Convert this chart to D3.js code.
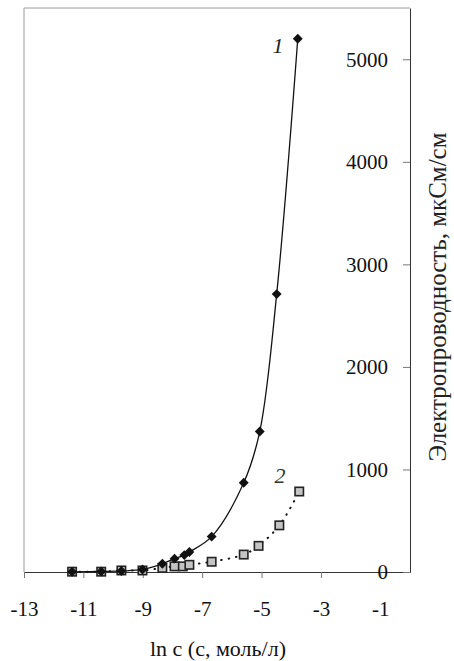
<!DOCTYPE html>
<html>
<head>
<meta charset="utf-8">
<script src="https://cdn.jsdelivr.net/npm/d3@7"></script>
<style>
  body { margin: 0; background: #fff; }
  svg { display: block; }
  svg text { font-family: "Liberation Serif", "Times New Roman", serif; }
</style>
</head>
<body>
<div id="chart"></div>
<script>
// Datos
const lnC1 = [-11.38, -10.4, -9.72, -9.01, -8.34, -7.93, -7.6, -7.43, -6.68, -5.6, -5.06, -4.49, -3.78];
const kappa1 = [2, 5, 10, 25, 80, 130, 165, 195, 345, 870, 1370, 2710, 5200];
const lnC2 = [-11.38, -10.4, -9.72, -9.01, -8.34, -7.93, -7.65, -7.43, -6.68, -5.6, -5.1, -4.4, -3.73];
const kappa2 = [3, 3, 15, 15, 40, 55, 55, 70, 100, 170, 255, 455, 785];
const xTicks = [-13, -11, -9, -7, -5, -3, -1];
const yTicks = [0, 1000, 2000, 3000, 4000, 5000];
const xTitle = "ln c (с, моль/л)";
const yTitle = "Электропроводность, мкСм/см";

const width = 454;
const height = 661;
const margin = { top: 8, right: 44, bottom: 89, left: 24 };

const svg = d3.select("#chart").append("svg")
    .attr("width", width)
    .attr("height", height);

const x = d3.scaleLinear().domain([-13, 0]).range([margin.left, width - margin.right]);
const y = d3.scaleLinear().domain([0, 5500]).range([height - margin.bottom, margin.top]);

// Marco superior e izquierdo
svg.append("path")
    .attr("d", `M${x(-13)},${y(0)}V${y(5500)}H${x(0)}`)
    .attr("fill", "none")
    .attr("stroke", "#9a9a9a")
    .attr("stroke-width", 1);

// Formato con guion simple, sin separador de miles
const fmt = d => String(d);

// Eje X
const xAxis = svg.append("g")
    .attr("transform", `translate(0,${y(0)})`)
    .call(d3.axisBottom(x).tickValues(xTicks).tickFormat(fmt).tickSize(6).tickPadding(23).tickSizeOuter(0));
xAxis.attr("font-family", null);
xAxis.select(".domain").attr("stroke", "#333");
xAxis.selectAll(".tick line").attr("stroke", "#777");
xAxis.selectAll("text").attr("font-size", 21).attr("fill", "#111");

// Eje Y (a la derecha, etiquetas hacia dentro)
const yAxis = svg.append("g")
    .attr("transform", `translate(${x(0)},0)`)
    .call(d3.axisLeft(y).tickValues(yTicks).tickFormat(fmt).tickSize(7).tickPadding(15).tickSizeOuter(0));
yAxis.attr("font-family", null);
yAxis.select(".domain").attr("stroke", "#333");
yAxis.selectAll(".tick line").attr("stroke", "#777");
yAxis.selectAll("text").attr("font-size", 21).attr("fill", "#111");

// Series
const s1 = lnC1.map((d, i) => [d, kappa1[i]]);
const s2 = lnC2.map((d, i) => [d, kappa2[i]]);

const line = d3.line()
    .x(d => x(d[0]))
    .y(d => y(d[1]))
    .curve(d3.curveCatmullRom.alpha(0.5));

svg.append("path")
    .datum(s1)
    .attr("d", line)
    .attr("fill", "none")
    .attr("stroke", "#111")
    .attr("stroke-width", 1.3);

svg.append("path")
    .datum(s2)
    .attr("d", line)
    .attr("fill", "none")
    .attr("stroke", "#111")
    .attr("stroke-width", 2)
    .attr("stroke-linecap", "round")
    .attr("stroke-dasharray", "0.5,7");

// Marcadores cuadrados (serie 2)
svg.selectAll(".sq")
    .data(s2)
    .enter().append("rect")
    .attr("class", "sq")
    .attr("x", d => x(d[0]) - 4.2)
    .attr("y", d => y(d[1]) - 4.2)
    .attr("width", 8.4)
    .attr("height", 8.4)
    .attr("fill", "#c4c4c4")
    .attr("stroke", "#222")
    .attr("stroke-width", 1.6);

// Marcadores rombo (serie 1)
svg.selectAll(".dm")
    .data(s1)
    .enter().append("path")
    .attr("class", "dm")
    .attr("transform", d => `translate(${x(d[0])},${y(d[1])}) rotate(45)`)
    .attr("d", "M-3.5,-3.5H3.5V3.5H-3.5Z")
    .attr("fill", "#111");

// Números de las curvas
svg.append("text")
    .attr("x", 278).attr("y", 53)
    .attr("text-anchor", "middle")
    .attr("font-style", "italic")
    .attr("font-size", 22)
    .attr("fill", "#222")
    .text("1");

svg.append("text")
    .attr("x", 280).attr("y", 483)
    .attr("text-anchor", "middle")
    .attr("font-style", "italic")
    .attr("font-size", 22)
    .attr("fill", "#333")
    .text("2");

// Títulos de los ejes
svg.append("text")
    .attr("x", 218).attr("y", 656)
    .attr("text-anchor", "middle")
    .attr("font-size", 22)
    .attr("fill", "#111")
    .text(xTitle);

svg.append("text")
    .attr("transform", `translate(446,${297}) rotate(-90)`)
    .attr("text-anchor", "middle")
    .attr("font-size", 25)
    .attr("fill", "#222")
    .text(yTitle);
</script>
</body>
</html>
